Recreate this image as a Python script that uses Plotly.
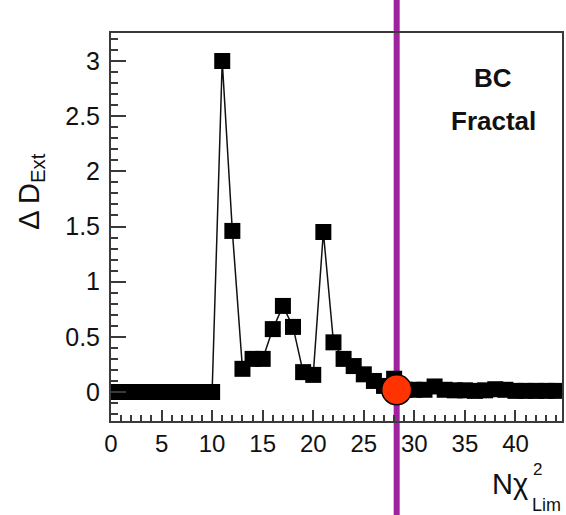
import plotly.graph_objects as go

# ---- data ----
n_chi2_lim = list(range(0, 45))
delta_d_ext = [0, 0, 0, 0, 0, 0, 0, 0, 0, 0, 0,
               3.0, 1.46, 0.21, 0.30, 0.30, 0.57, 0.78, 0.59, 0.18, 0.155,
               1.45, 0.45, 0.30, 0.235, 0.16, 0.10, 0.055, 0.12, 0.02, 0.02,
               0.02, 0.05, 0.02, 0.015, 0.015, 0.01, 0.015, 0.025, 0.02, 0.01,
               0.01, 0.01, 0.01, 0.01]
chosen_x = [28.25]
chosen_y = [0.02]
x_range = [0, 44.6]
y_range = [-0.263, 3.254]
x_tick_vals = [0, 5, 10, 15, 20, 25, 30, 35, 40]
y_tick_vals = [0, 0.5, 1, 1.5, 2, 2.5, 3]
y_tick_text = ["0", "0.5", "1", "1.5", "2", "2.5", "3"]

FONT = "Liberation Sans, Arial, sans-serif"

fig = go.Figure()
fig.add_trace(go.Scatter(
    x=n_chi2_lim, y=delta_d_ext, mode="lines+markers",
    line=dict(color="#111111", width=1.5),
    marker=dict(symbol="square", size=16, color="black"),
    showlegend=False, cliponaxis=True,
))
fig.add_trace(go.Scatter(
    x=chosen_x, y=chosen_y, mode="markers",
    marker=dict(symbol="circle", size=30, color="#ff3300",
                line=dict(color="black", width=1.5)),
    showlegend=False, cliponaxis=False,
))

# vertical marker line over full page height
xp = (chosen_x[0] - x_range[0]) / (x_range[1] - x_range[0])
fig.add_shape(type="line", xref="paper", yref="paper",
              x0=xp, x1=xp, y0=-0.3, y1=1.1,
              line=dict(color="#a0229e", width=6), layer="below")

axis_common = dict(showgrid=False, zeroline=False, showline=True, mirror=True,
                   linecolor="#3a3a3a", linewidth=2, ticks="inside",
                   tickcolor="#3a3a3a", tickwidth=1.5)

fig.update_xaxes(range=x_range, tickvals=x_tick_vals, ticklen=11,
                 tickfont=dict(family=FONT, size=24, color="#111111"),
                 minor=dict(dtick=1, ticks="inside", ticklen=6,
                            tickcolor="#3a3a3a", tickwidth=1.5),
                 **axis_common)
fig.update_yaxes(range=y_range, tickvals=y_tick_vals, ticktext=y_tick_text,
                 ticklen=15, ticklabelstandoff=4,
                 tickfont=dict(family=FONT, size=25, color="#111111"),
                 minor=dict(dtick=0.1, ticks="inside", ticklen=7,
                            tickcolor="#3a3a3a", tickwidth=1.5),
                 **axis_common)

annotations = [
    dict(text="Δ D<sub>Ext</sub>", x=-0.178, y=0.59, textangle=-90,
         font=dict(family=FONT, size=29, color="#111111")),
    dict(text="Nχ", x=0.885, y=-0.163,
         font=dict(family=FONT, size=29, color="#111111")),
    dict(text="2", x=0.946, y=-0.126,
         font=dict(family=FONT, size=17, color="#111111")),
    dict(text="Lim", x=0.966, y=-0.216,
         font=dict(family=FONT, size=18, color="#111111")),
    dict(text="<b>BC</b>", x=0.848, y=0.884,
         font=dict(family=FONT, size=26, color="#111111")),
    dict(text="<b>Fractal</b>", x=0.848, y=0.773,
         font=dict(family=FONT, size=26, color="#111111")),
]
for a in annotations:
    fig.add_annotation(xref="paper", yref="paper", showarrow=False,
                       xanchor="center", yanchor="middle", **a)

fig.update_layout(width=566, height=515,
                  margin=dict(l=111, r=2, t=33, b=94),
                  paper_bgcolor="white", plot_bgcolor="white")

fig.write_html("out.html")
